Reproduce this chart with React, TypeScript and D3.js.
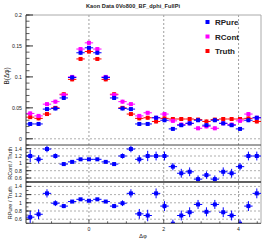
import React from 'react';
import * as d3 from 'd3';

// bins: 28 bins from -pi/2 - half bin to 3pi/2 - half bin
const nBins = 28;
const binW = (2 * Math.PI) / nBins;
const xLo = -Math.PI / 2 - binW / 2;
const xHi = xLo + 2 * Math.PI;

const rPure = [0.024, 0.024, 0.048, 0.049, 0.066, 0.099, 0.139, 0.147, 0.139, 0.099, 0.066, 0.049, 0.048, 0.024,
  0.024, 0.034, 0.030, 0.016, 0.022, 0.025, 0.030, 0.022, 0.030, 0.025, 0.022, 0.016, 0.030, 0.034];
const rCont = [0.041, 0.037, 0.056, 0.060, 0.071, 0.100, 0.145, 0.155, 0.145, 0.100, 0.071, 0.060, 0.056, 0.037,
  0.042, 0.034, 0.040, 0.029, 0.023, 0.025, 0.017, 0.020, 0.017, 0.025, 0.023, 0.029, 0.040, 0.034];
const truth = [0.035, 0.033, 0.040, 0.050, 0.072, 0.096, 0.129, 0.141, 0.129, 0.096, 0.072, 0.050, 0.040, 0.033,
  0.034, 0.028, 0.033, 0.032, 0.032, 0.032, 0.031, 0.028, 0.031, 0.032, 0.032, 0.032, 0.033, 0.028];
const topErr = 0.003;

const ratioCont = [1.2, 1.11, 1.39, 1.2, 0.98, 1.04, 1.11, 1.11, 1.11, 1.04, 0.98, 1.2, 1.39, 1.11,
  1.2, 1.2, 1.2, 0.91, 0.73, 0.77, 0.57, 0.68, 0.57, 0.77, 0.73, 0.91, 1.2, 1.2];
const ratioContErr = [0.17, 0.11, 0.09, 0.07, 0.05, 0.03, 0.02, 0.02, 0.02, 0.03, 0.05, 0.07, 0.09, 0.11,
  0.14, 0.12, 0.12, 0.1, 0.12, 0.12, 0.1, 0.1, 0.1, 0.12, 0.12, 0.1, 0.12, 0.12];
const ratioPure = [0.65, 0.72, 1.23, 0.99, 0.92, 1.03, 1.085, 1.05, 1.085, 1.03, 0.92, 0.99, 1.23, 0.73,
  0.69, 1.23, 0.92, 0.49, 0.69, 0.77, 0.96, 0.78, 0.96, 0.77, 0.69, 0.49, 0.92, 1.23];
const ratioPureErr = [0.15, 0.12, 0.1, 0.07, 0.05, 0.03, 0.02, 0.02, 0.02, 0.03, 0.05, 0.07, 0.1, 0.12,
  0.14, 0.12, 0.12, 0.1, 0.12, 0.12, 0.11, 0.11, 0.11, 0.12, 0.12, 0.1, 0.12, 0.12];

const topTicks = [0, 0.05, 0.1, 0.15, 0.2];
const ratioTicks = [0.6, 0.8, 1, 1.2, 1.4];
const xTicks = [0, 2, 4];

const W = 266, H = 242;
const L = 26, R = 261;
const font = 'Liberation Sans, Arial, sans-serif';

const x = d3.scaleLinear().domain([xLo, xHi]).range([L, R]);
const yTop = d3.scaleLinear().domain([-0.01, 0.2]).range([145, 15]);
const yC = d3.scaleLinear().domain([0.5, 1.5]).range([181.7, 145]);
const yP = d3.scaleLinear().domain([0.5, 1.5]).range([223.3, 182.3]);

const centers = d3.range(nBins).map(i => xLo + (i + 0.5) * binW);

function Points({ vals, errs, y, color, clip }: any) {
  return (
    <g clipPath={clip}>
      {vals.map((v: number, i: number) => {
        const c = centers[i];
        const e = Array.isArray(errs) ? errs[i] : errs;
        const py = y(v);
        return (
          <g key={i}>
            <line x1={x(c - binW / 2)} x2={x(c + binW / 2)} y1={py} y2={py} stroke={color} strokeWidth={1} />
            <line x1={x(c)} x2={x(c)} y1={y(v - e)} y2={y(v + e)} stroke={color} strokeWidth={1} />
            <rect x={x(c) - 2} y={py - 2} width={4} height={4} fill={color} />
          </g>
        );
      })}
    </g>
  );
}

function RatioPanel({ y, label, vals, errs, top, bottom }: any) {
  const minor = d3.range(0.5, 1.51, 0.1);
  return (
    <g>
      {ratioTicks.map(t => (
        <g key={t}>
          <line x1={L} x2={R} y1={y(t)} y2={y(t)} stroke="#999" strokeDasharray="2,2" strokeWidth={0.8} />
          <line x1={L} x2={L + 5} y1={y(t)} y2={y(t)} stroke="#333" />
          <text x={22} y={y(t) + 2} textAnchor="end" fontSize={5.2} fontFamily={font} fill="#222">{t}</text>
        </g>
      ))}
      {minor.map((t, i) => (
        <line key={i} x1={L} x2={L + 2.5} y1={y(t)} y2={y(t)} stroke="#333" strokeWidth={0.8} />
      ))}
      <text transform={`translate(12,${(top + bottom) / 2}) rotate(-90)`} textAnchor="middle" fontSize={5.5}
        fontFamily={font} fill="#222">{label}</text>
      <Points vals={vals} errs={errs} y={y} color="#0000ff" clip={`url(#clip${label.slice(1, 2)})`} />
      <line x1={L} x2={R} y1={top} y2={top} stroke="#444" strokeWidth={1} />
      <line x1={L} x2={R} y1={bottom} y2={bottom} stroke="#444" strokeWidth={1} />
    </g>
  );
}

export default function App() {
  const topMinor = d3.range(-0.01, 0.2001, 0.01);
  const xMinor = d3.range(-1.5, 4.51, 0.5);
  return (
    <div style={{ position: 'absolute', left: 0, top: 0 }}>
      <svg width={W} height={H} style={{ display: 'block', background: '#fff' }}>
        <defs>
          <clipPath id="clipC"><rect x={L} y={145} width={R - L} height={36.7} /></clipPath>
          <clipPath id="clipP"><rect x={L} y={182.3} width={R - L} height={41} /></clipPath>
        </defs>
        <text x={133} y={8} textAnchor="middle" fontSize={5.6} fontWeight="bold" fontFamily={font} fill="#222"
          textLength={94}>Kaon Data 0Vo800_BF_dphi_FullPi</text>

        {/* vertical grid */}
        {xTicks.map(t => (
          <line key={t} x1={x(t)} x2={x(t)} y1={15} y2={223.3} stroke="#888" strokeDasharray="2,2" strokeWidth={0.8} />
        ))}
        {/* top frame */}
        <line x1={L} x2={R} y1={15} y2={15} stroke="#aaa" />
        <line x1={R} x2={R} y1={15} y2={223.3} stroke="#aaa" />
        <line x1={L} x2={R} y1={yTop(0)} y2={yTop(0)} stroke="#999" strokeDasharray="2,2" strokeWidth={0.8} />
        {topTicks.map(t => (
          <g key={t}>
            <line x1={L} x2={L + 7} y1={yTop(t)} y2={yTop(t)} stroke="#333" />
            <text x={22} y={yTop(t) + 2} textAnchor="end" fontSize={5.2} fontFamily={font} fill="#222">{t}</text>
          </g>
        ))}
        {topMinor.map((t, i) => (
          <line key={i} x1={L} x2={L + 3.5} y1={yTop(t)} y2={yTop(t)} stroke="#333" strokeWidth={0.8} />
        ))}
        <text transform="translate(9,76) rotate(-90)" textAnchor="middle" fontSize={6.5} fontFamily={font}
          fill="#222">B(Δφ)</text>

        <Points vals={truth} errs={topErr} y={yTop} color="#ff0000" />
        <Points vals={rCont} errs={topErr} y={yTop} color="#ff00ff" />
        <Points vals={rPure} errs={topErr} y={yTop} color="#0000ff" />

        {/* legend */}
        {[['RPure', '#0000ff'], ['RCont', '#ff00ff'], ['Truth', '#ff0000']].map(([name, c], i) => (
          <g key={name} transform={`translate(0,${22 + i * 14.5})`}>
            <rect x={205.5} y={-2} width={4} height={4} fill={c} />
            <text x={215} y={3} fontSize={8} fontWeight="bold" fontFamily={font} fill="#222">{name}</text>
          </g>
        ))}

        <RatioPanel y={yC} label="RCont / Truth" vals={ratioCont} errs={ratioContErr} top={145} bottom={181.7} />
        <RatioPanel y={yP} label="RPure / Truth" vals={ratioPure} errs={ratioPureErr} top={182.3} bottom={223.3} />

        {/* left axis */}
        <line x1={L} x2={L} y1={15} y2={223.3} stroke="#333" />
        {/* bottom axis ticks */}
        {xMinor.map((t, i) => (
          <line key={i} x1={x(t)} x2={x(t)} y1={223.3} y2={223.3 - (xTicks.includes(t) ? 4 : 2)} stroke="#333" strokeWidth={0.8} />
        ))}
        {xTicks.map(t => (
          <text key={t} x={x(t)} y={231} textAnchor="middle" fontSize={5.2} fontFamily={font} fill="#222">{t}</text>
        ))}
        <text x={143} y={238} textAnchor="middle" fontSize={6} fontFamily={font} fill="#222">Δφ</text>
      </svg>
    </div>
  );
}
